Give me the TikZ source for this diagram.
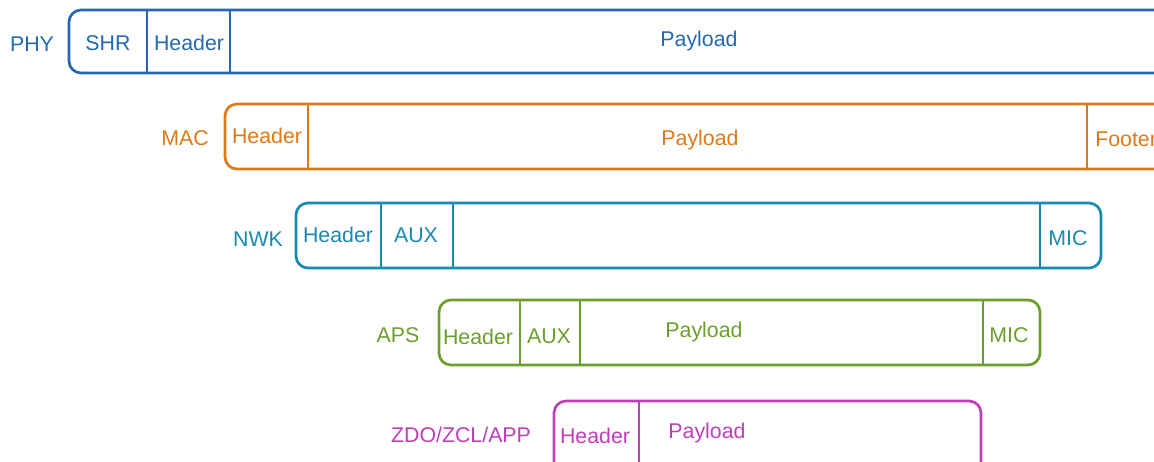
\documentclass[tikz,border=0pt]{standalone}
\usepackage{fontspec}
\setmainfont{Liberation Sans}
\usepackage{tikz}

\definecolor{phyblue}{RGB}{36,104,178}
\definecolor{macorange}{RGB}{222,122,22}
\definecolor{nwkteal}{RGB}{24,138,176}
\definecolor{apsgreen}{RGB}{108,158,46}
\definecolor{appmagenta}{RGB}{192,62,186}

\tikzset{
    frame/.style={line width=2pt, rounded corners=9pt},
    field/.style={line width=2pt},
    lbl/.style={inner sep=0pt, yshift=-1.5pt, font=\fontsize{16}{19}\selectfont}
}

\begin{document}
\begin{tikzpicture}[x=0.75pt, y=-0.75pt]
        \useasboundingbox (0,0) rectangle (1154,461);
        \clip (0,0) rectangle (1154,461);
        % PHY
        \draw [frame, phyblue] (69,10) rectangle (1180,73);
        \draw [field, phyblue] (147,10) -- (147,73);
        \draw [field, phyblue] (230,10) -- (230,73);
        \node [lbl, text=phyblue] (phy) at (32,42) {PHY};
        \node [lbl, text=phyblue] (physhr) at (108,41) {SHR};
        \node [lbl, text=phyblue] (phyhdr) at (189,41) {Header};
        \node [lbl, text=phyblue] (phypay) at (699,39) {Payload};
        % MAC
        \draw [frame, macorange] (225,104) rectangle (1180,169);
        \draw [field, macorange] (308,104) -- (308,169);
        \draw [field, macorange] (1087,104) -- (1087,169);
        \node [lbl, text=macorange] (mac) at (185,136) {MAC};
        \node [lbl, text=macorange] (machdr) at (267,134) {Header};
        \node [lbl, text=macorange] (macpay) at (700,138) {Payload};
        \node [lbl, text=macorange, anchor=west] (macftr) at (1095,137) {Footer};
        % NWK
        \draw [frame, nwkteal] (296,203) rectangle (1101,268);
        \draw [field, nwkteal] (381,203) -- (381,268);
        \draw [field, nwkteal] (453,203) -- (453,268);
        \draw [field, nwkteal] (1040,203) -- (1040,268);
        \node [lbl, text=nwkteal] (nwk) at (258,237) {NWK};
        \node [lbl, text=nwkteal] (nwkhdr) at (338,233) {Header};
        \node [lbl, text=nwkteal] (nwkaux) at (416,233) {AUX};
        \node [lbl, text=nwkteal] (nwkmic) at (1068,236) {MIC};
        % APS
        \draw [frame, apsgreen] (439,300) rectangle (1040,365);
        \draw [field, apsgreen] (520,300) -- (520,365);
        \draw [field, apsgreen] (580,300) -- (580,365);
        \draw [field, apsgreen] (983,300) -- (983,365);
        \node [lbl, text=apsgreen] (aps) at (398,333) {APS};
        \node [lbl, text=apsgreen] (apshdr) at (478,335) {Header};
        \node [lbl, text=apsgreen] (apsaux) at (549,334) {AUX};
        \node [lbl, text=apsgreen] (apspay) at (704,330) {Payload};
        \node [lbl, text=apsgreen] (apsmic) at (1009,333) {MIC};
        % ZDO/ZCL/APP
        \draw [frame, appmagenta] (554,401) rectangle (981,490);
        \draw [field, appmagenta] (639,401) -- (639,490);
        \node [lbl, text=appmagenta] (app) at (461,433) {ZDO/ZCL/APP};
        \node [lbl, text=appmagenta] (apphdr) at (595,434) {Header};
        \node [lbl, text=appmagenta] (apppay) at (707,431) {Payload};
    \end{tikzpicture}
\end{document}
